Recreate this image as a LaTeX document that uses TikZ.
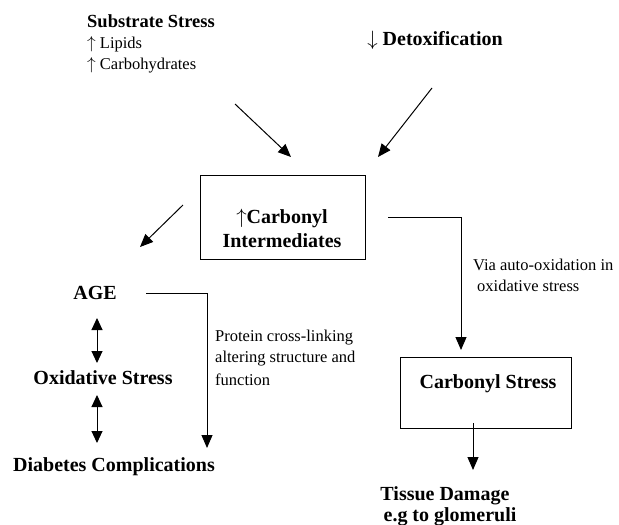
\documentclass[tikz,border=0pt]{standalone}
\usepackage{fontspec}
\setmainfont{Liberation Serif}
\usetikzlibrary{arrows.meta}

\tikzset{
	flow/.style={line width=1pt, -{Triangle[length=13pt,width=11pt]}},
	twoway/.style={line width=1pt, {Triangle[length=12pt,width=11pt]}-{Triangle[length=12pt,width=11pt]}},
	head/.style={font=\bfseries\fontsize{20}{24}\selectfont},
	note/.style={font=\fontsize{16.5}{21}\selectfont, align=left, inner sep=0pt},
	stagebox/.style={draw, line width=1pt, inner sep=0pt}
}

\begin{document}
\begin{tikzpicture}[x=1pt,y=-1pt]
	\useasboundingbox (0,0) rectangle (619,525);

	% inputs
	\node[note, anchor=north west] (sub) at (87,14) {\textbf{\fontsize{18.5}{21}\selectfont Substrate Stress}\\ $\uparrow$ Lipids\\ $\uparrow$ Carbohydrates};
	\node[head] (detox) at (435,40) {$\downarrow$ Detoxification};

	% boxes
	\node[stagebox, minimum width=165pt, minimum height=84pt] (carbint) at (282.5,217) {};
	\node[head, align=center] (carbtext) at (282,228) {$\uparrow$Carbonyl\\Intermediates};
	\node[stagebox, minimum width=171pt, minimum height=71pt] (carbstr) at (485.5,392.5) {};
	\node[head] (cstext) at (488,384) {Carbonyl Stress};

	% outcomes
	\node[head] (age) at (95,293) {AGE};
	\node[head] (oxs) at (103,378) {Oxidative Stress};
	\node[head] (diab) at (114,467) {Diabetes Complications};
	\node[head, align=center, font=\bfseries\fontsize{20}{21}\selectfont] (tissue) at (445,506) {Tissue Damage\\\hspace*{10pt}e.g to glomeruli};

	% free ends of the connectors
	\coordinate (subend) at (235,104);
	\coordinate (subtip) at (291,157);
	\coordinate (detend) at (432,88);
	\coordinate (dettip) at (378,157);
	\coordinate (ciend) at (183,205);
	\coordinate (agetip) at (140,247);
	\coordinate (ciright) at (388,217);
	\coordinate (cstip) at (461,350);
	\coordinate (ageright) at (146,293);
	\coordinate (diabtip) at (207,448);
	\coordinate (csend) at (473,423);
	\coordinate (tistip) at (473,470);
	\coordinate (ageoxtop) at (97,318);
	\coordinate (ageoxbot) at (97,363);
	\coordinate (oxditop) at (97,395);
	\coordinate (oxdibot) at (97,443);

	\draw[flow] (subend) -- (subtip);
	\draw[flow] (detend) -- (dettip);
	\draw[flow] (ciend) -- (agetip);
	\draw[flow] (ciright) -| (cstip);
	\draw[flow] (ageright) -| (diabtip);
	\draw[flow] (csend) -- (tistip);

	%double arrows on the left
	\draw[twoway] (ageoxtop) -- (ageoxbot);
	\draw[twoway] (oxditop) -- (oxdibot);

	% connector labels
	\node[note, anchor=north west] (vialbl) at (473,259) {Via auto-oxidation in\\\hspace*{4pt}oxidative stress};
	\node[note, anchor=north west] (protlbl) at (215,330) {Protein cross-linking\\altering structure and\\[2pt]function};
\end{tikzpicture}
\end{document}
